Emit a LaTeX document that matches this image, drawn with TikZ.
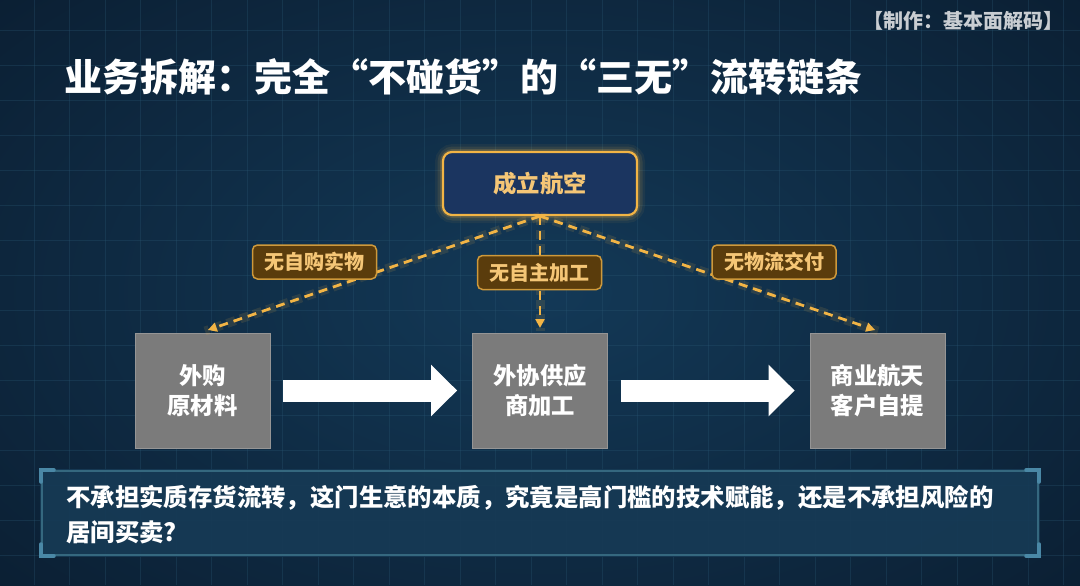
\documentclass[tikz,border=0pt]{standalone}
\usepackage{fontspec}
\setmainfont{Noto Sans CJK SC}
\usetikzlibrary{arrows.meta,shadings}
\newdimen\pxu \pxu=0.75pt
\definecolor{bgIn}{HTML}{133957}
\definecolor{bgOut}{HTML}{0B1F33}
\definecolor{gridc}{HTML}{2A5874}
\definecolor{gold}{HTML}{F2B445}
\definecolor{goldtxt}{HTML}{F5C676}
\definecolor{navybox}{HTML}{1B3560}
\definecolor{brownbox}{HTML}{5A3C0C}
\definecolor{graybox}{HTML}{7B7B7B}
\definecolor{panel}{HTML}{163A55}
\definecolor{panelline}{HTML}{35687F}
\definecolor{corner}{HTML}{4A88A6}
\definecolor{credit}{HTML}{C9CDD2}
\tikzset{
  topbox/.style={draw=gold, line width=2.2\pxu, fill=navybox, rounded corners=9\pxu,
    minimum width=194\pxu, minimum height=63\pxu, text=goldtxt, font=\bfseries\fontsize{17.5}{20}\selectfont},
  tagbox/.style={draw=gold!85!black, line width=1.5\pxu, fill=brownbox, rounded corners=5\pxu,
    minimum width=124\pxu, minimum height=34\pxu, text=goldtxt, font=\bfseries\fontsize{15}{18}\selectfont, inner sep=0pt},
  stagebox/.style={fill=graybox, draw=graybox!80!white, line width=0.8\pxu, minimum width=135\pxu, minimum height=115\pxu,
    text=white, align=center, font=\bfseries\fontsize{17.5}{23}\selectfont},
  glowline/.style={draw=gold, line width=9\pxu, opacity=0.12, dash pattern=on 9\pxu off 5\pxu},
  goldline/.style={draw=gold, line width=2.8\pxu, dash pattern=on 9\pxu off 6\pxu,
    -{Triangle[length=6.75pt,width=6.75pt]}, shorten >=3\pxu},
  bigarrow/.style={draw=white, line width=22\pxu, -{Triangle[length=19.5pt,width=37.5pt]}, shorten <=13\pxu, shorten >=15\pxu},
  cornermark/.style={draw=corner, line width=3.5\pxu, line cap=round}
}
\begin{document}
\begin{tikzpicture}[x=0.75pt,y=-0.75pt]
\useasboundingbox (0,0) rectangle (1080,585);
% background
\shade[inner color=bgIn, outer color=bgOut] (-200,-150) rectangle (1280,735);
\foreach \x in {34,69.5,...,1080} \draw[gridc, line width=0.8\pxu, opacity=0.3] (\x,0) -- (\x,585);
\foreach \y in {30,65,...,585} \draw[gridc, line width=0.8\pxu, opacity=0.3] (0,\y) -- (1080,\y);

% credit and title
\node[anchor=east, text=credit, font=\bfseries\fontsize{15}{17}\selectfont, inner sep=0pt] (credit) at (1064,21) {【制作：基本面解码】};
\node[anchor=west, text=white, font=\bfseries\fontsize{28.5}{34}\selectfont, inner sep=0pt] (title) at (64,77) {业务拆解：完全“不碰货”的“三无”流转链条};

% top box with glow
\foreach \w/\o in {16/0.06,11/0.10,6/0.18}
  \draw[gold, line width=\w\pxu, opacity=\o, rounded corners=10\pxu] (443,152) rectangle (637,215);
\node[topbox] (top) at (540,183.5) {成立航空};

% stage boxes
\node[stagebox] (s1) at (202.5,390.5) {外购\\原材料};
\node[stagebox] (s2) at (540,390.5) {外协供应\\商加工};
\node[stagebox] (s3) at (877.5,390.5) {商业航天\\客户自提};

\coordinate (t1) at (205,331);
\coordinate (t2) at (540,331);
\coordinate (t3) at (878,331);

% glowing dashed connectors
\foreach \t in {t1,t2,t3} \draw[glowline] (top.south) -- (\t);
\draw[goldline] (top.south) -- (t1);
\draw[goldline] (top.south) -- (t2);
\draw[goldline] (top.south) -- (t3);

% tags
\node[tagbox] (g1) at (314.5,262) {无自购实物};
\node[tagbox] (g2) at (539.5,272.5) {无自主加工};
\node[tagbox] (g3) at (774,262) {无物流交付};

% big arrows
\draw[bigarrow] (s1.east) -- (s2.west);
\draw[bigarrow] (s2.east) -- (s3.west);

% bottom panel
\fill[panel, opacity=0.92] (40,469) rectangle (1040,557);
\draw[panelline, line width=1.3\pxu] (42,471) rectangle (1038,555);
\draw[cornermark] (41,482) -- (41,470) -- (54,470);
\draw[cornermark] (1039,482) -- (1039,470) -- (1026,470);
\draw[cornermark] (41,544) -- (41,556) -- (54,556);
\draw[cornermark] (1039,544) -- (1039,556) -- (1026,556);
\node[anchor=west, align=left, text=white, font=\bfseries\fontsize{18.3}{26.25}\selectfont, inner sep=0pt] (q) at (66,514.5)
  {不承担实质存货流转，这门生意的本质，究竟是高门槛的技术赋能，还是不承担风险的\\居间买卖?};
\end{tikzpicture}
\end{document}
